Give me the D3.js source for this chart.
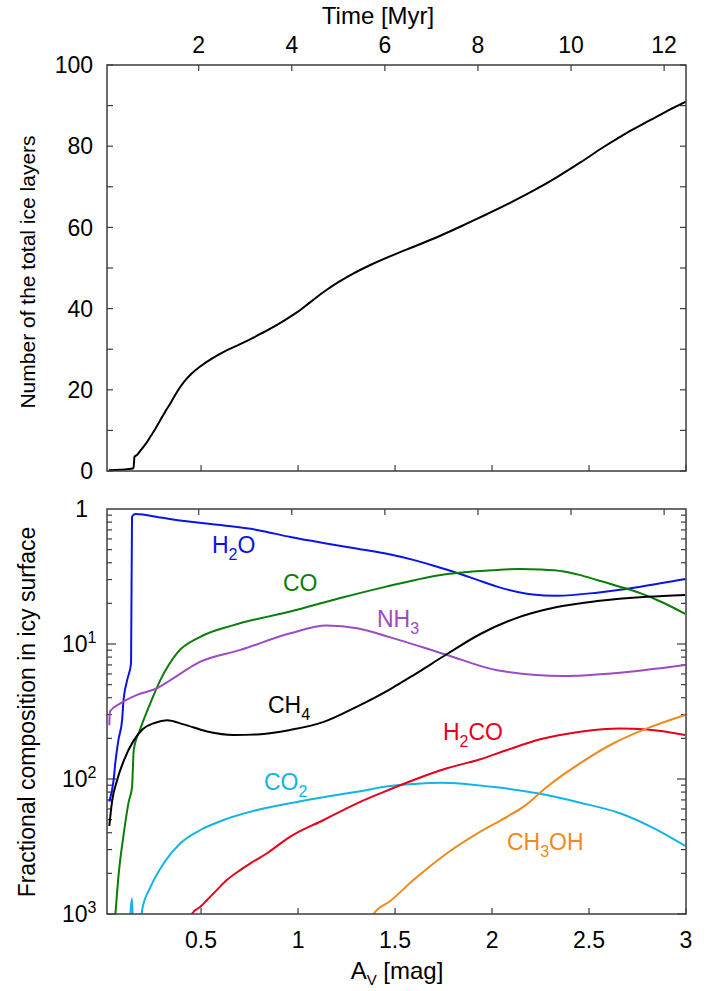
<!DOCTYPE html>
<html><head><meta charset="utf-8">
<script src="https://cdn.jsdelivr.net/npm/d3@7"></script>
<style>body{margin:0;background:#fff} text{font-family:"Liberation Sans",Arial,Helvetica,sans-serif;fill:#000}</style>
</head><body><svg id="c" width="715" height="991"></svg>
<script>
// ---------------- data ----------------
const timeTicks = [2, 4, 6, 8, 10, 12];
const avTicks = [0.5, 1, 1.5, 2, 2.5, 3];
const avTickLabels = ["0.5", "1", "1.5", "2", "2.5", "3"];
const layerTicks = [0, 20, 40, 60, 80, 100];
const layerMinorTicks = [10, 30, 50, 70, 90];
const logTickValues = [1, 0.1, 0.01, 0.001];
const logTickBase = ["1", "10", "10", "10"];
const logTickExp = ["", "1", "2", "3"];

// top panel: number of ice layers vs time [Myr]
const layerTime  = [0.07, 0.3, 0.6, 0.62, 0.68, 0.76, 0.87, 0.97, 1.08, 1.18, 1.29, 1.40, 1.54, 1.68, 1.85, 2.04, 2.3, 2.6, 2.9, 3.2, 3.5, 3.8, 4.1, 4.4, 4.7, 5.0, 5.3, 5.7, 6.2, 6.7, 7.2, 7.7, 8.2, 8.7, 9.2, 9.7, 10.2, 10.7, 11.2, 11.7, 12.1, 12.47];
const layerCount = [0.2, 0.3, 0.7, 3.5, 4.0, 5.2, 6.8, 8.6, 10.6, 12.6, 14.8, 16.8, 19.6, 21.9, 24.0, 25.8, 27.8, 29.7, 31.3, 33.0, 34.8, 36.8, 39.0, 41.6, 44.2, 46.5, 48.5, 50.8, 53.3, 55.6, 58.0, 60.6, 63.3, 66.1, 69.1, 72.4, 76.0, 79.8, 83.3, 86.4, 88.9, 91.0];

// bottom panel: fractional composition vs A_V [mag]; pairs [A_V, fraction]
const h2o = [[0.027,0.0068],[0.049,0.0098],[0.058,0.0132],[0.074,0.0195],[0.093,0.0274],[0.099,0.0366],[0.119,0.054],[0.139,0.072],[0.144,0.877],[0.161,0.918],[0.3,0.86],[0.445,0.805],[0.6,0.76],[0.789,0.70],[0.96,0.62],[1.13,0.56],[1.3,0.51],[1.476,0.46],[1.594,0.42],[1.7,0.38],[1.82,0.336],[1.92,0.30],[2.026,0.266],[2.198,0.234],[2.335,0.228],[2.541,0.24],[2.765,0.266],[2.996,0.303]];
const co = [[0.045,0.0007],[0.058,0.001],[0.074,0.0019],[0.101,0.0039],[0.127,0.0068],[0.144,0.0087],[0.153,0.0165],[0.187,0.0235],[0.239,0.0366],[0.29,0.054],[0.376,0.0857],[0.496,0.113],[0.668,0.138],[0.96,0.174],[1.218,0.219],[1.45,0.265],[1.768,0.33],[2.0,0.352],[2.145,0.36],[2.25,0.357],[2.369,0.345],[2.45,0.325],[2.541,0.298],[2.65,0.268],[2.764,0.238],[2.88,0.203],[2.996,0.167]];
const nh3 = [[0.027,0.025],[0.03,0.0316],[0.084,0.0363],[0.17,0.042],[0.273,0.047],[0.342,0.054],[0.496,0.074],[0.703,0.0904],[0.96,0.12],[1.149,0.137],[1.304,0.131],[1.476,0.112],[1.768,0.083],[2.026,0.064],[2.369,0.058],[2.627,0.0607],[2.996,0.0698]];
const ch4 = [[0.027,0.0045],[0.041,0.0068],[0.067,0.0098],[0.1,0.0135],[0.15,0.019],[0.2,0.0235],[0.26,0.026],[0.325,0.0272],[0.41,0.0254],[0.531,0.0225],[0.668,0.0212],[0.789,0.0214],[0.96,0.0231],[1.132,0.0265],[1.304,0.0344],[1.476,0.0464],[1.596,0.0589],[1.768,0.0843],[1.94,0.1186],[2.111,0.153],[2.335,0.188],[2.541,0.208],[2.799,0.224],[2.996,0.231]];
const co2 = [[0.128,0.0006],[0.144,0.0013],[0.152,0.0006],[0.185,0.0007],[0.196,0.00107],[0.239,0.00158],[0.307,0.00237],[0.393,0.00334],[0.496,0.00419],[0.616,0.00497],[0.789,0.00589],[1.046,0.00698],[1.304,0.00805],[1.476,0.00887],[1.596,0.00918],[1.734,0.0094],[2.026,0.00867],[2.232,0.00783],[2.455,0.00667],[2.66,0.00557],[2.833,0.00432],[2.996,0.00319]];
const h2co = [[0.435,0.0008],[0.454,0.00101],[0.496,0.00113],[0.531,0.00127],[0.582,0.00151],[0.634,0.00179],[0.703,0.00212],[0.754,0.00237],[0.84,0.00282],[0.96,0.00374],[1.132,0.00497],[1.304,0.0066],[1.424,0.00783],[1.596,0.00984],[1.768,0.012],[1.94,0.014],[2.077,0.0164],[2.249,0.0197],[2.455,0.0224],[2.66,0.0237],[2.799,0.0233],[2.996,0.0212]];
const ch3oh = [[1.36,0.0008],[1.39,0.001],[1.476,0.00125],[1.596,0.00179],[1.768,0.00282],[1.94,0.00407],[2.077,0.00525],[2.163,0.00624],[2.284,0.00877],[2.455,0.0131],[2.627,0.0184],[2.799,0.0237],[2.996,0.0298]];

const speciesData = [h2o, co, nh3, ch4, co2, h2co, ch3oh];
const speciesColors = ["#0a14e6", "#0a7d0a", "#9b4cc4", "#000000", "#12b4e6", "#e4001a", "#ee8a1e"];
// labels: segments [text, isSubscript], anchored at [A_V, fraction]
const speciesLabels = [
  [["H",0],["2",1],["O",0]],
  [["CO",0]],
  [["NH",0],["3",1]],
  [["CH",0],["4",1]],
  [["CO",0],["2",1]],
  [["H",0],["2",1],["CO",0]],
  [["CH",0],["3",1],["OH",0]]
];
const speciesLabelAt = [[0.556,0.472],[0.922,0.247],[1.407,0.134],[0.845,0.0308],[0.824,0.0083],[1.747,0.0195],[2.077,0.00298]];

// ---------------- layout ----------------
const L = 107, R = 686;
const T1 = 65, B1 = 471, T2 = 509, B2 = 914;
const frameColor = "#3c3c3c";
const tickFont = 23;

const svg = d3.select("#c");
svg.append("rect").attr("width",715).attr("height",991).attr("fill","#fff");

const xAv = d3.scaleLinear().domain([0.015, 3]).range([L, R]);
const xTime = d3.scaleLinear().domain([0.03, 12.47]).range([L, R]);
const yLayer = d3.scaleLinear().domain([0, 100]).range([B1, T1]);
const yFrac = d3.scaleLog().domain([1e-3, 1]).range([B2, T2]);

const defs = svg.append("defs");
defs.append("clipPath").attr("id","clipTop").append("rect").attr("x",L).attr("y",T1).attr("width",R-L).attr("height",B1-T1);
defs.append("clipPath").attr("id","clipBot").append("rect").attr("x",L).attr("y",T2).attr("width",R-L).attr("height",B2-T2);

function tick(g, x1, y1, x2, y2){
  g.append("line").attr("x1",x1).attr("y1",y1).attr("x2",x2).attr("y2",y2)
   .attr("stroke",frameColor).attr("stroke-width",1.2);
}

// ---------- top panel ----------
const gTop = svg.append("g");
const tl = 6;
layerTicks.concat(layerMinorTicks).forEach(v => {
  const y = yLayer(v);
  tick(gTop, L, y, L+tl, y);
  tick(gTop, R, y, R-tl, y);
});
layerTicks.forEach(v => {
  gTop.append("text").attr("x", L-14).attr("y", yLayer(v)).attr("dy","0.36em")
    .attr("text-anchor","end").attr("font-size",tickFont).text(v);
});
timeTicks.forEach(v => {
  const x = xTime(v);
  tick(gTop, x, T1, x, T1+tl);
  tick(gTop, x, T2, x, T2+tl);
  gTop.append("text").attr("x", x).attr("y", 45).attr("dy","0.36em")
    .attr("text-anchor","middle").attr("font-size",tickFont).text(v);
});
avTicks.forEach(v => {
  const x = xAv(v);
  tick(gTop, x, B1, x, B1-tl);
  tick(gTop, x, B2, x, B2-tl);
});
gTop.append("text").attr("x", 378).attr("y", 15).attr("dy","0.36em")
  .attr("text-anchor","middle").attr("font-size",24).text("Time [Myr]");
gTop.append("text").attr("transform","translate(27,272) rotate(-90)").attr("dy","0.36em")
  .attr("text-anchor","middle").attr("font-size",21).text("Number of the total ice layers");

const layerLine = d3.line().x((d,i)=>xTime(layerTime[i])).y((d,i)=>yLayer(layerCount[i])).curve(d3.curveMonotoneX);
gTop.append("path").attr("clip-path","url(#clipTop)").attr("d", layerLine(layerTime))
  .attr("fill","none").attr("stroke","#000").attr("stroke-width",2);
gTop.append("rect").attr("x",L).attr("y",T1).attr("width",R-L).attr("height",B1-T1)
  .attr("fill","none").attr("stroke",frameColor).attr("stroke-width",1.5);

// ---------- bottom panel ----------
const gBot = svg.append("g");
for (let e = -3; e < 0; e++) {
  for (let m = 1; m <= 9; m++) {
    const v = m * Math.pow(10, e);
    const y = yFrac(v);
    const len = m === 1 ? 9 : 5;
    tick(gBot, L, y, L+len, y);
    tick(gBot, R, y, R-len, y);
  }
}
logTickValues.forEach((v,i) => {
  const t = gBot.append("text").attr("y", yFrac(v)).attr("dy","0.36em").attr("font-size",tickFont);
  if (logTickExp[i] === "") {
    t.attr("x", 88).attr("text-anchor","end").text(logTickBase[i]);
  } else {
    t.attr("x", 62);
    t.append("tspan").text(logTickBase[i]);
    t.append("tspan").attr("dy", -9).attr("font-size",16).text(logTickExp[i]);
  }
});
avTicks.forEach((v,i) => {
  gBot.append("text").attr("x", xAv(v)).attr("y", 940).attr("dy","0.36em")
    .attr("text-anchor","middle").attr("font-size",tickFont).text(avTickLabels[i]);
});
const xt = gBot.append("text").attr("x", 397).attr("y", 970).attr("dy","0.36em")
  .attr("text-anchor","middle").attr("font-size",24);
xt.append("tspan").text("A");
xt.append("tspan").attr("dy",6).attr("font-size",15).text("V");
xt.append("tspan").attr("dy",-6).text(" [mag]");
gBot.append("text").attr("transform","translate(27,712) rotate(-90)").attr("dy","0.36em")
  .attr("text-anchor","middle").attr("font-size",23).text("Fractional composition in icy surface");

const fracLine = d3.line().x(d=>xAv(d[0])).y(d=>yFrac(d[1])).curve(d3.curveMonotoneX);
const gLines = gBot.append("g").attr("clip-path","url(#clipBot)");
speciesData.forEach((s,i) => {
  gLines.append("path").attr("d", fracLine(s)).attr("fill","none")
    .attr("stroke", speciesColors[i]).attr("stroke-width",2);
});
speciesLabels.forEach((segs,i) => {
  const t = gBot.append("text").attr("x", xAv(speciesLabelAt[i][0])).attr("y", yFrac(speciesLabelAt[i][1]))
    .attr("font-size",23).style("fill", speciesColors[i]);
  let prevSub = false;
  segs.forEach(([txt, sub]) => {
    const sp = t.append("tspan").text(txt).style("fill", speciesColors[i]);
    if (sub && !prevSub) sp.attr("dy", 7).attr("font-size",16);
    else if (!sub && prevSub) sp.attr("dy", -7);
    prevSub = !!sub;
  });
});
gBot.append("rect").attr("x",L).attr("y",T2).attr("width",R-L).attr("height",B2-T2)
  .attr("fill","none").attr("stroke",frameColor).attr("stroke-width",1.5);
</script>
</body></html>
